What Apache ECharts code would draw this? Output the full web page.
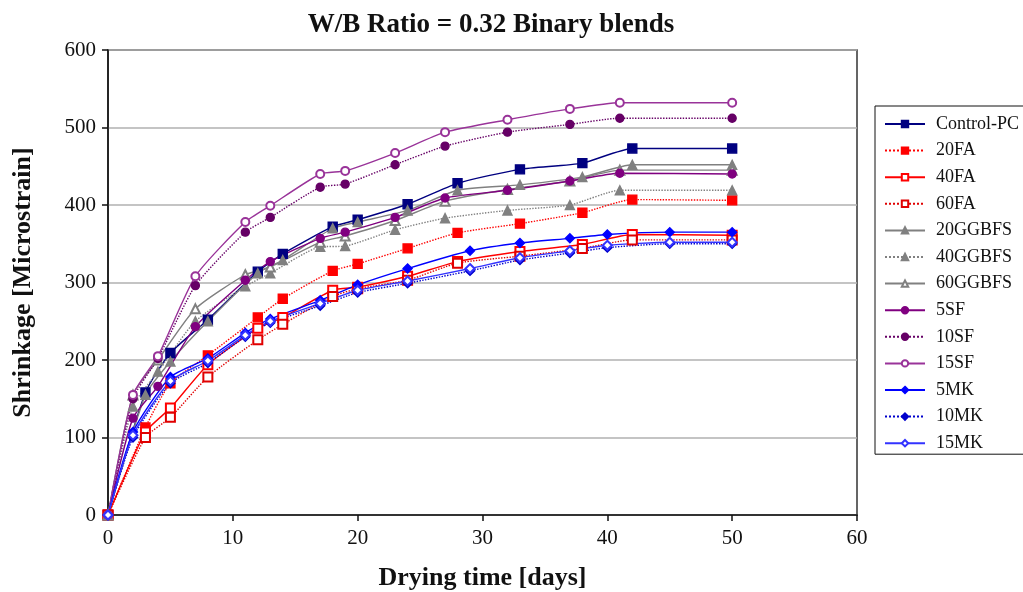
<!DOCTYPE html>
<html>
<head>
<meta charset="utf-8">
<script src="https://cdn.jsdelivr.net/npm/echarts@6/dist/echarts.min.js"></script>
<style>
  html, body { margin: 0; padding: 0; background: #fff; }
  #chart { width: 1023px; height: 592px; }
</style>
</head>
<body>
<div id="chart"></div>
<script>
// Drying days at which each mix group was measured
const daysPC = [0, 3, 5, 8, 12, 14, 18, 20, 24, 28, 33, 38, 42, 50];
const daysSF = [0, 2, 4, 7, 11, 13, 17, 19, 23, 27, 32, 37, 41, 50];
const daysMK = [0, 2, 5, 8, 11, 13, 17, 20, 24, 29, 33, 37, 40, 45, 50];

// Shrinkage in microstrain
const controlPC = [0, 158, 209, 252, 314, 337, 372, 381, 401, 428, 446, 454, 473, 473];
const fa20 = [0, 113, 170, 206, 255, 279, 315, 324, 344, 364, 376, 390, 407, 406];
const fa40 = [0, 107, 138, 194, 241, 255, 290, 294, 308, 327, 340, 349, 362, 361];
const fa60 = [0, 100, 126, 178, 226, 246, 282, 292, 303, 325, 334, 344, 355, 355];
const ggbfs20 = [0, 155, 198, 250, 312, 329, 370, 378, 393, 419, 426, 436, 452, 452];
const ggbfs40 = [0, 140, 185, 250, 295, 312, 346, 347, 368, 383, 393, 400, 419, 419];
const ggbfs60 = [0, 155, 200, 266, 310, 320, 352, 360, 380, 405, 420, 431, 445, 445];
const sf5 = [0, 125, 166, 243, 303, 327, 357, 365, 384, 409, 419, 431, 441, 440];
const sf10 = [0, 150, 202, 296, 365, 384, 423, 427, 452, 476, 494, 504, 512, 512];
const sf15 = [0, 155, 205, 308, 378, 399, 440, 444, 467, 494, 510, 524, 532, 532];
const mk5 = [0, 107, 178, 202, 235, 253, 277, 297, 318, 341, 351, 357, 362, 365, 365];
const mk10 = [0, 100, 170, 196, 230, 248, 270, 287, 299, 315, 329, 338, 345, 350, 350];
const mk15 = [0, 103, 173, 199, 232, 250, 273, 290, 302, 318, 332, 341, 348, 352, 352];

const yTicks = [0, 100, 200, 300, 400, 500, 600];
const xTicks = [0, 10, 20, 30, 40, 50, 60];

const serif = '"Liberation Serif", "DejaVu Serif", serif';

function pairs(days, vals) {
  return days.map((d, i) => [d, vals[i]]);
}

function mix(name, days, vals, color, symbol, lineType, size) {
  return {
    name: name,
    type: 'line',
    data: pairs(days, vals),
    symbol: symbol,
    symbolSize: size || 8,
    showSymbol: true,
    smooth: 0.2,
    lineStyle: { color: color, width: 1.4, type: lineType },
    itemStyle: { color: color, borderColor: color, borderWidth: 1.4 },
    emphasis: { disabled: true },
    z: 3
  };
}

const chart = echarts.init(document.getElementById('chart'));
chart.setOption({
  animation: false,
  backgroundColor: '#ffffff',
  title: {
    text: 'W/B Ratio = 0.32 Binary blends',
    left: 486,
    textAlign: 'center',
    top: 7,
    textStyle: { fontFamily: serif, fontWeight: 'bold', fontSize: 27, color: '#111' }
  },
  grid: {
    left: 108, right: 166, top: 50, bottom: 77,
    containLabel: false, outerBoundsMode: 'none',
    show: true, borderColor: '#333', borderWidth: 1.5
  },
  legend: {
    orient: 'vertical',
    left: 875,
    top: 106,
    padding: [8, 40, 1, 9],
    itemWidth: 40,
    itemHeight: 8,
    itemGap: 6.6,
    borderColor: '#111',
    borderWidth: 1,
    textStyle: { fontFamily: serif, fontSize: 18, color: '#111', lineHeight: 20, padding: [0, 0, 0, 6] },
    data: ['Control-PC', '20FA', '40FA', '60FA', '20GGBFS', '40GGBFS', '60GGBFS', '5SF', '10SF', '15SF', '5MK', '10MK', '15MK']
  },
  xAxis: {
    type: 'value',
    min: 0, max: 60, interval: 10,
    name: 'Drying time [days]',
    nameLocation: 'middle',
    nameGap: 50,
    nameTextStyle: { fontFamily: serif, fontWeight: 'bold', fontSize: 26, color: '#111' },
    axisLine: { onZero: false, lineStyle: { color: '#111', width: 1.5 } },
    axisTick: { show: true, inside: false, length: 6, lineStyle: { color: '#111', width: 1.5 } },
    axisLabel: { fontFamily: serif, fontSize: 21, color: '#111', margin: 13,
      formatter: v => xTicks.includes(v) ? String(v) : '' },
    splitLine: { show: false }
  },
  yAxis: {
    type: 'value',
    min: 0, max: 600, interval: 100,
    name: 'Shrinkage [Microstrain]',
    nameLocation: 'middle',
    nameGap: 72,
    nameRotate: 90,
    nameTextStyle: { fontFamily: serif, fontWeight: 'bold', fontSize: 26, color: '#111' },
    axisLine: { show: true, lineStyle: { color: '#111', width: 1.5 } },
    axisTick: { show: true, inside: false, length: 6, lineStyle: { color: '#111', width: 1.5 } },
    axisLabel: { fontFamily: serif, fontSize: 21, color: '#111', margin: 12,
      formatter: v => yTicks.includes(v) ? String(v) : '' },
    splitLine: { show: true, lineStyle: { color: '#b0b0b0', width: 1.5 } }
  },
  series: [
    mix('Control-PC', daysPC, controlPC, '#000080', 'rect', 'solid', 9),
    mix('20FA', daysPC, fa20, '#ff0000', 'rect', 'dotted', 9),
    mix('40FA', daysPC, fa40, '#ff0000', 'emptyRect', 'solid', 9),
    mix('60FA', daysPC, fa60, '#e00000', 'emptyRect', 'dotted', 9),
    mix('20GGBFS', daysPC, ggbfs20, '#808080', 'triangle', 'solid', 9),
    mix('40GGBFS', daysSF, ggbfs40, '#808080', 'triangle', 'dotted', 9),
    mix('60GGBFS', daysSF, ggbfs60, '#808080', 'emptyTriangle', 'solid', 9),
    mix('5SF', daysSF, sf5, '#800080', 'circle', 'solid', 8),
    mix('10SF', daysSF, sf10, '#660066', 'circle', 'dotted', 8),
    mix('15SF', daysSF, sf15, '#993399', 'emptyCircle', 'solid', 8),
    mix('5MK', daysMK, mk5, '#0000ff', 'diamond', 'solid', 9),
    mix('10MK', daysMK, mk10, '#0000cc', 'diamond', 'dotted', 9),
    mix('15MK', daysMK, mk15, '#3333ff', 'emptyDiamond', 'solid', 9)
  ]
});
</script>
</body>
</html>
